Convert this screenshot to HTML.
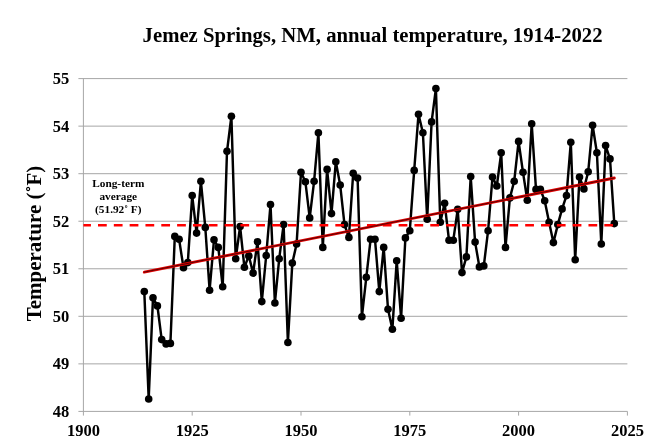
<!DOCTYPE html>
<html><head><meta charset="utf-8"><title>Jemez Springs, NM, annual temperature</title>
<style>html,body{margin:0;padding:0;background:#fff}svg{display:block}text{font-family:"Liberation Serif","Times New Roman",serif;font-weight:bold;fill:#000}</style></head><body>
<svg width="650" height="445" viewBox="0 0 650 445">
<rect width="650" height="445" fill="#fff"/>
<line x1="78.4" y1="411.40" x2="627.4" y2="411.40" stroke="#a6a6a6" stroke-width="1"/>
<line x1="78.4" y1="363.86" x2="627.4" y2="363.86" stroke="#a6a6a6" stroke-width="1"/>
<line x1="78.4" y1="316.31" x2="627.4" y2="316.31" stroke="#a6a6a6" stroke-width="1"/>
<line x1="78.4" y1="268.77" x2="627.4" y2="268.77" stroke="#a6a6a6" stroke-width="1"/>
<line x1="78.4" y1="221.23" x2="627.4" y2="221.23" stroke="#a6a6a6" stroke-width="1"/>
<line x1="78.4" y1="173.69" x2="627.4" y2="173.69" stroke="#a6a6a6" stroke-width="1"/>
<line x1="78.4" y1="126.14" x2="627.4" y2="126.14" stroke="#a6a6a6" stroke-width="1"/>
<line x1="78.4" y1="78.60" x2="627.4" y2="78.60" stroke="#a6a6a6" stroke-width="1"/>
<line x1="83.4" y1="78.6" x2="83.4" y2="415.6" stroke="#a6a6a6" stroke-width="1"/>
<line x1="192.20" y1="411.4" x2="192.20" y2="415.6" stroke="#a6a6a6" stroke-width="1"/>
<line x1="301.00" y1="411.4" x2="301.00" y2="415.6" stroke="#a6a6a6" stroke-width="1"/>
<line x1="409.80" y1="411.4" x2="409.80" y2="415.6" stroke="#a6a6a6" stroke-width="1"/>
<line x1="518.60" y1="411.4" x2="518.60" y2="415.6" stroke="#a6a6a6" stroke-width="1"/>
<line x1="627.40" y1="411.4" x2="627.40" y2="415.6" stroke="#a6a6a6" stroke-width="1"/>
<text x="69.3" y="416.80" font-size="16.5" text-anchor="end">48</text>
<text x="69.3" y="369.26" font-size="16.5" text-anchor="end">49</text>
<text x="69.3" y="321.71" font-size="16.5" text-anchor="end">50</text>
<text x="69.3" y="274.17" font-size="16.5" text-anchor="end">51</text>
<text x="69.3" y="226.63" font-size="16.5" text-anchor="end">52</text>
<text x="69.3" y="179.09" font-size="16.5" text-anchor="end">53</text>
<text x="69.3" y="131.54" font-size="16.5" text-anchor="end">54</text>
<text x="69.3" y="84.00" font-size="16.5" text-anchor="end">55</text>
<text x="83.40" y="436.2" font-size="16.5" text-anchor="middle">1900</text>
<text x="192.20" y="436.2" font-size="16.5" text-anchor="middle">1925</text>
<text x="301.00" y="436.2" font-size="16.5" text-anchor="middle">1950</text>
<text x="409.80" y="436.2" font-size="16.5" text-anchor="middle">1975</text>
<text x="518.60" y="436.2" font-size="16.5" text-anchor="middle">2000</text>
<text x="627.40" y="436.2" font-size="16.5" text-anchor="middle">2025</text>
<text x="142.6" y="41.5" font-size="20.6" textLength="460" lengthAdjust="spacingAndGlyphs">Jemez Springs, NM, annual temperature, 1914-2022</text>
<text transform="translate(41.3,321.3) rotate(-90)" font-size="20.3" textLength="155.6" lengthAdjust="spacingAndGlyphs">Temperature (˚F)</text>
<text x="118.3" y="186.9" font-size="11.3" text-anchor="middle">Long-term</text>
<text x="118.3" y="199.9" font-size="11.3" text-anchor="middle">average</text>
<text x="118.3" y="212.9" font-size="11.3" text-anchor="middle">(51.92˚ F)</text>
<polyline points="144.3,291.6 148.7,399.0 153.0,297.8 157.4,305.9 161.7,339.6 166.1,343.9 170.4,343.4 174.8,236.4 179.1,239.3 183.5,267.8 187.8,262.6 192.2,195.6 196.6,233.1 200.9,181.3 205.3,227.4 209.6,290.2 214.0,239.8 218.3,247.4 222.7,286.8 227.0,151.3 231.4,116.2 235.7,258.8 240.1,226.5 244.4,267.3 248.8,255.9 253.1,273.1 257.5,241.7 261.8,301.6 266.2,255.5 270.5,204.6 274.9,303.0 279.2,258.8 283.6,224.6 287.9,342.5 292.3,263.1 296.6,244.0 301.0,172.3 305.4,181.8 309.7,217.9 314.1,181.3 318.4,132.8 322.8,247.4 327.1,169.4 331.5,213.6 335.8,161.8 340.2,185.1 344.5,224.6 348.9,237.4 353.2,173.2 357.6,178.0 361.9,316.8 366.3,277.3 370.6,239.3 375.0,239.3 379.3,291.6 383.7,247.4 388.0,309.2 392.4,329.2 396.7,260.7 401.1,318.2 405.4,237.9 409.8,230.7 414.2,170.4 418.5,114.3 422.9,132.8 427.2,219.3 431.6,121.9 435.9,88.6 440.3,222.2 444.6,203.2 449.0,240.2 453.3,240.2 457.7,209.3 462.0,272.6 466.4,256.9 470.7,176.5 475.1,242.1 479.4,266.9 483.8,265.9 488.1,230.7 492.5,177.0 496.8,186.0 501.2,152.8 505.5,247.4 509.9,197.9 514.2,181.3 518.6,141.4 523.0,172.3 527.3,200.3 531.7,123.8 536.0,189.4 540.4,189.4 544.7,200.8 549.1,222.2 553.4,242.6 557.8,224.6 562.1,208.9 566.5,195.6 570.8,142.3 575.2,259.7 579.5,177.0 583.9,188.9 588.2,171.8 592.6,125.2 596.9,152.8 601.3,244.0 605.6,145.6 610.0,158.9 614.3,223.6" fill="none" stroke="#000" stroke-width="2.45" stroke-linejoin="round"/>
<circle cx="144.3" cy="291.6" r="3.8" fill="#000"/>
<circle cx="148.7" cy="399.0" r="3.8" fill="#000"/>
<circle cx="153.0" cy="297.8" r="3.8" fill="#000"/>
<circle cx="157.4" cy="305.9" r="3.8" fill="#000"/>
<circle cx="161.7" cy="339.6" r="3.8" fill="#000"/>
<circle cx="166.1" cy="343.9" r="3.8" fill="#000"/>
<circle cx="170.4" cy="343.4" r="3.8" fill="#000"/>
<circle cx="174.8" cy="236.4" r="3.8" fill="#000"/>
<circle cx="179.1" cy="239.3" r="3.8" fill="#000"/>
<circle cx="183.5" cy="267.8" r="3.8" fill="#000"/>
<circle cx="187.8" cy="262.6" r="3.8" fill="#000"/>
<circle cx="192.2" cy="195.6" r="3.8" fill="#000"/>
<circle cx="196.6" cy="233.1" r="3.8" fill="#000"/>
<circle cx="200.9" cy="181.3" r="3.8" fill="#000"/>
<circle cx="205.3" cy="227.4" r="3.8" fill="#000"/>
<circle cx="209.6" cy="290.2" r="3.8" fill="#000"/>
<circle cx="214.0" cy="239.8" r="3.8" fill="#000"/>
<circle cx="218.3" cy="247.4" r="3.8" fill="#000"/>
<circle cx="222.7" cy="286.8" r="3.8" fill="#000"/>
<circle cx="227.0" cy="151.3" r="3.8" fill="#000"/>
<circle cx="231.4" cy="116.2" r="3.8" fill="#000"/>
<circle cx="235.7" cy="258.8" r="3.8" fill="#000"/>
<circle cx="240.1" cy="226.5" r="3.8" fill="#000"/>
<circle cx="244.4" cy="267.3" r="3.8" fill="#000"/>
<circle cx="248.8" cy="255.9" r="3.8" fill="#000"/>
<circle cx="253.1" cy="273.1" r="3.8" fill="#000"/>
<circle cx="257.5" cy="241.7" r="3.8" fill="#000"/>
<circle cx="261.8" cy="301.6" r="3.8" fill="#000"/>
<circle cx="266.2" cy="255.5" r="3.8" fill="#000"/>
<circle cx="270.5" cy="204.6" r="3.8" fill="#000"/>
<circle cx="274.9" cy="303.0" r="3.8" fill="#000"/>
<circle cx="279.2" cy="258.8" r="3.8" fill="#000"/>
<circle cx="283.6" cy="224.6" r="3.8" fill="#000"/>
<circle cx="287.9" cy="342.5" r="3.8" fill="#000"/>
<circle cx="292.3" cy="263.1" r="3.8" fill="#000"/>
<circle cx="296.6" cy="244.0" r="3.8" fill="#000"/>
<circle cx="301.0" cy="172.3" r="3.8" fill="#000"/>
<circle cx="305.4" cy="181.8" r="3.8" fill="#000"/>
<circle cx="309.7" cy="217.9" r="3.8" fill="#000"/>
<circle cx="314.1" cy="181.3" r="3.8" fill="#000"/>
<circle cx="318.4" cy="132.8" r="3.8" fill="#000"/>
<circle cx="322.8" cy="247.4" r="3.8" fill="#000"/>
<circle cx="327.1" cy="169.4" r="3.8" fill="#000"/>
<circle cx="331.5" cy="213.6" r="3.8" fill="#000"/>
<circle cx="335.8" cy="161.8" r="3.8" fill="#000"/>
<circle cx="340.2" cy="185.1" r="3.8" fill="#000"/>
<circle cx="344.5" cy="224.6" r="3.8" fill="#000"/>
<circle cx="348.9" cy="237.4" r="3.8" fill="#000"/>
<circle cx="353.2" cy="173.2" r="3.8" fill="#000"/>
<circle cx="357.6" cy="178.0" r="3.8" fill="#000"/>
<circle cx="361.9" cy="316.8" r="3.8" fill="#000"/>
<circle cx="366.3" cy="277.3" r="3.8" fill="#000"/>
<circle cx="370.6" cy="239.3" r="3.8" fill="#000"/>
<circle cx="375.0" cy="239.3" r="3.8" fill="#000"/>
<circle cx="379.3" cy="291.6" r="3.8" fill="#000"/>
<circle cx="383.7" cy="247.4" r="3.8" fill="#000"/>
<circle cx="388.0" cy="309.2" r="3.8" fill="#000"/>
<circle cx="392.4" cy="329.2" r="3.8" fill="#000"/>
<circle cx="396.7" cy="260.7" r="3.8" fill="#000"/>
<circle cx="401.1" cy="318.2" r="3.8" fill="#000"/>
<circle cx="405.4" cy="237.9" r="3.8" fill="#000"/>
<circle cx="409.8" cy="230.7" r="3.8" fill="#000"/>
<circle cx="414.2" cy="170.4" r="3.8" fill="#000"/>
<circle cx="418.5" cy="114.3" r="3.8" fill="#000"/>
<circle cx="422.9" cy="132.8" r="3.8" fill="#000"/>
<circle cx="427.2" cy="219.3" r="3.8" fill="#000"/>
<circle cx="431.6" cy="121.9" r="3.8" fill="#000"/>
<circle cx="435.9" cy="88.6" r="3.8" fill="#000"/>
<circle cx="440.3" cy="222.2" r="3.8" fill="#000"/>
<circle cx="444.6" cy="203.2" r="3.8" fill="#000"/>
<circle cx="449.0" cy="240.2" r="3.8" fill="#000"/>
<circle cx="453.3" cy="240.2" r="3.8" fill="#000"/>
<circle cx="457.7" cy="209.3" r="3.8" fill="#000"/>
<circle cx="462.0" cy="272.6" r="3.8" fill="#000"/>
<circle cx="466.4" cy="256.9" r="3.8" fill="#000"/>
<circle cx="470.7" cy="176.5" r="3.8" fill="#000"/>
<circle cx="475.1" cy="242.1" r="3.8" fill="#000"/>
<circle cx="479.4" cy="266.9" r="3.8" fill="#000"/>
<circle cx="483.8" cy="265.9" r="3.8" fill="#000"/>
<circle cx="488.1" cy="230.7" r="3.8" fill="#000"/>
<circle cx="492.5" cy="177.0" r="3.8" fill="#000"/>
<circle cx="496.8" cy="186.0" r="3.8" fill="#000"/>
<circle cx="501.2" cy="152.8" r="3.8" fill="#000"/>
<circle cx="505.5" cy="247.4" r="3.8" fill="#000"/>
<circle cx="509.9" cy="197.9" r="3.8" fill="#000"/>
<circle cx="514.2" cy="181.3" r="3.8" fill="#000"/>
<circle cx="518.6" cy="141.4" r="3.8" fill="#000"/>
<circle cx="523.0" cy="172.3" r="3.8" fill="#000"/>
<circle cx="527.3" cy="200.3" r="3.8" fill="#000"/>
<circle cx="531.7" cy="123.8" r="3.8" fill="#000"/>
<circle cx="536.0" cy="189.4" r="3.8" fill="#000"/>
<circle cx="540.4" cy="189.4" r="3.8" fill="#000"/>
<circle cx="544.7" cy="200.8" r="3.8" fill="#000"/>
<circle cx="549.1" cy="222.2" r="3.8" fill="#000"/>
<circle cx="553.4" cy="242.6" r="3.8" fill="#000"/>
<circle cx="557.8" cy="224.6" r="3.8" fill="#000"/>
<circle cx="562.1" cy="208.9" r="3.8" fill="#000"/>
<circle cx="566.5" cy="195.6" r="3.8" fill="#000"/>
<circle cx="570.8" cy="142.3" r="3.8" fill="#000"/>
<circle cx="575.2" cy="259.7" r="3.8" fill="#000"/>
<circle cx="579.5" cy="177.0" r="3.8" fill="#000"/>
<circle cx="583.9" cy="188.9" r="3.8" fill="#000"/>
<circle cx="588.2" cy="171.8" r="3.8" fill="#000"/>
<circle cx="592.6" cy="125.2" r="3.8" fill="#000"/>
<circle cx="596.9" cy="152.8" r="3.8" fill="#000"/>
<circle cx="601.3" cy="244.0" r="3.8" fill="#000"/>
<circle cx="605.6" cy="145.6" r="3.8" fill="#000"/>
<circle cx="610.0" cy="158.9" r="3.8" fill="#000"/>
<circle cx="614.3" cy="223.6" r="3.8" fill="#000"/>
<line x1="83.4" y1="225.25" x2="614.3" y2="225.25" stroke="#ff0000" stroke-width="2.7" stroke-dasharray="8.75 7.072" stroke-dashoffset="1.22"/>
<line x1="144.3" y1="272.1" x2="614.3" y2="178.0" stroke="#e00000" stroke-width="2.9" stroke-linecap="round"/>
<line x1="144.3" y1="272.1" x2="614.3" y2="178.0" stroke="#5a0000" stroke-width="1.0" stroke-linecap="round"/>
</svg></body></html>
